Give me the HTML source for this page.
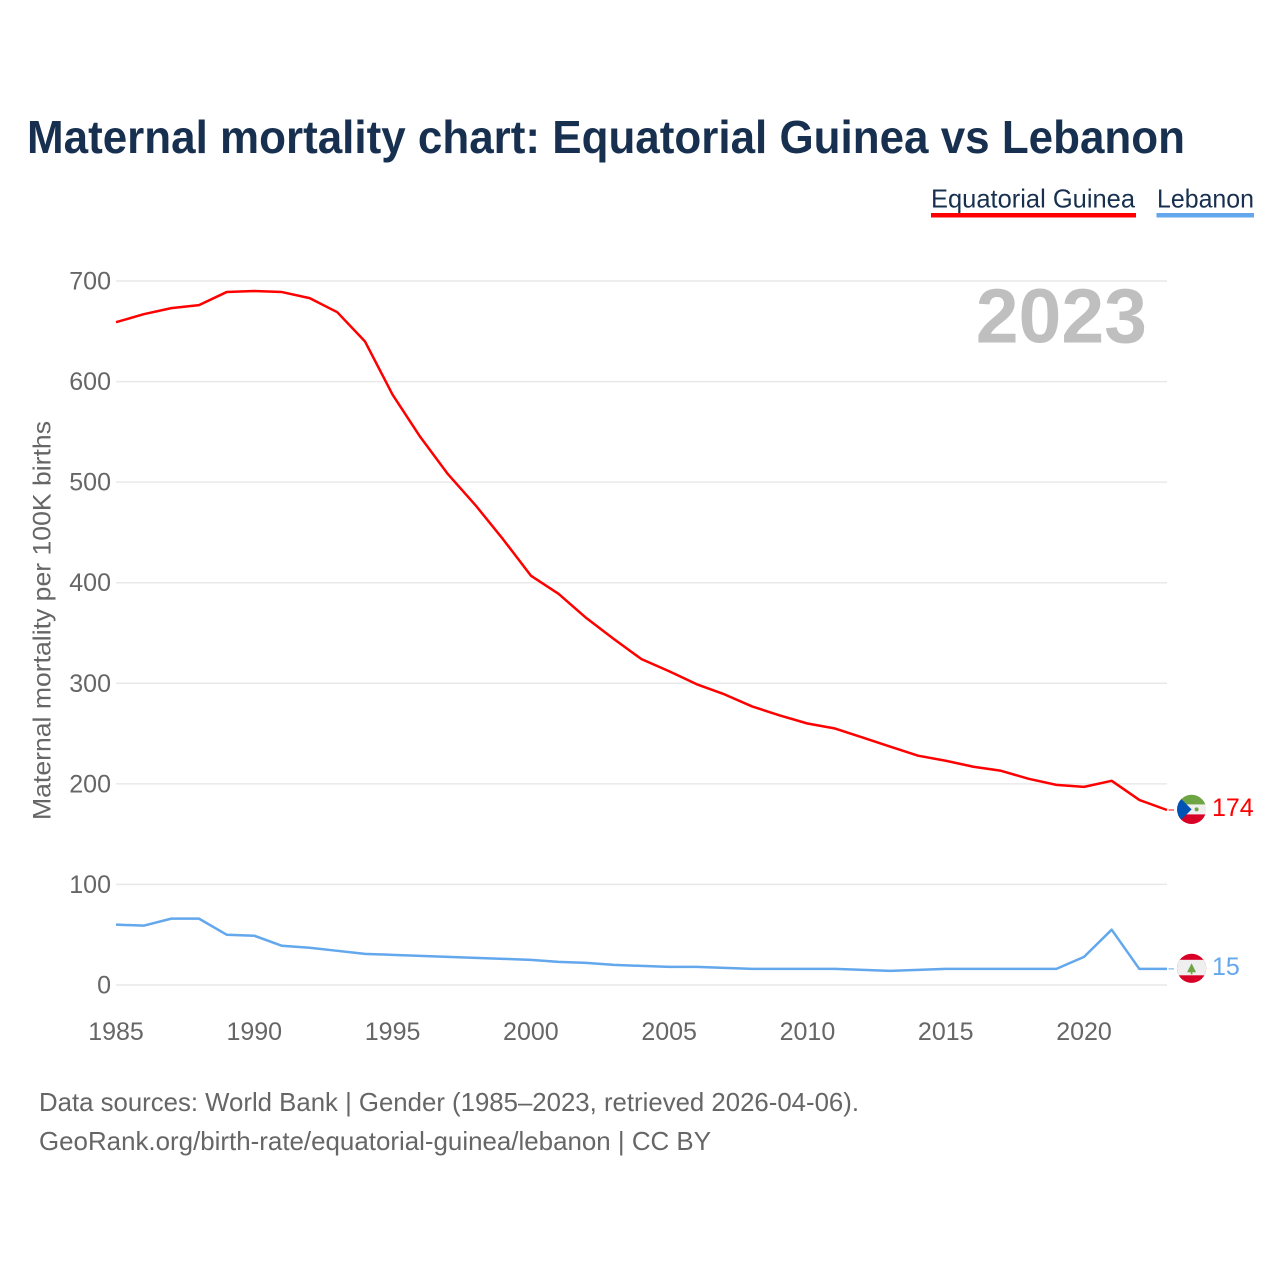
<!DOCTYPE html>
<html lang="en">
<head>
<meta charset="utf-8">
<title>Maternal mortality chart: Equatorial Guinea vs Lebanon</title>
<style>
html,body{margin:0;padding:0;background:#fff;}
svg{display:block;font-family:"Liberation Sans",sans-serif;}
</style>
</head>
<body>
<svg id="chart" xmlns="http://www.w3.org/2000/svg" width="1280" height="1280" viewBox="0 0 1280 1280">
  <defs>
    <clipPath id="clip-eg"><circle id="clip-eg-circle" r="14.6" cx="0" cy="0"/></clipPath>
    <clipPath id="clip-lb"><circle id="clip-lb-circle" r="14.6" cx="0" cy="0"/></clipPath>
  </defs>
  <rect width="1280" height="1280" fill="#fff"/>
  <text x="27" y="153" font-size="46" font-weight="700" fill="#18304f" textLength="1158" lengthAdjust="spacingAndGlyphs">Maternal mortality chart: Equatorial Guinea vs Lebanon</text>

  <g>
    <text x="931" y="207.5" font-size="26" fill="#18304f" textLength="204" lengthAdjust="spacingAndGlyphs">Equatorial Guinea</text>
    <rect x="931" y="213" width="205" height="4.5" fill="#ff0000"/>
  </g>
  <g>
    <text x="1157" y="207.5" font-size="26" fill="#18304f" textLength="97" lengthAdjust="spacingAndGlyphs">Lebanon</text>
    <rect x="1156.5" y="213" width="97.5" height="4.5" fill="#63a7ec"/>
  </g>

  <g id="grid"></g>
  <g id="y-ticks"></g>
  <g id="x-ticks"></g>

  <text x="1147" y="342.5" text-anchor="end" font-size="77" font-weight="700" fill="#bfbfbf">2023</text>
  <text transform="translate(50.5,820) rotate(-90)" font-size="25" fill="#666" textLength="399" lengthAdjust="spacingAndGlyphs">Maternal mortality per 100K births</text>

  <g id="series"></g>
  <g id="end-markers"></g>

  <text x="39" y="1111" font-size="26" fill="#666" textLength="820" lengthAdjust="spacingAndGlyphs">Data sources: World Bank | Gender (1985–2023, retrieved 2026-04-06).</text>
  <text x="39" y="1150" font-size="26" fill="#666" textLength="672" lengthAdjust="spacingAndGlyphs">GeoRank.org/birth-rate/equatorial-guinea/lebanon | CC BY</text>
</svg>
<script>
const years = [1985,1986,1987,1988,1989,1990,1991,1992,1993,1994,1995,1996,1997,1998,1999,2000,2001,2002,2003,2004,2005,2006,2007,2008,2009,2010,2011,2012,2013,2014,2015,2016,2017,2018,2019,2020,2021,2022,2023];
const equatorialGuinea = [659,667,673,676,689,690,689,683,669,640,587,545,508,477,443,407,389,365,344,324,312,299,289,277,268,260,255,246,237,228,223,217,213,205,199,197,203,184,174];
const lebanon = [60,59,66,66,50,49,39,37,34,31,30,29,28,27,26,25,23,22,20,19,18,18,17,16,16,16,16,15,14,15,16,16,16,16,16,28,55,16,16];
const yTickLabels = [0,100,200,300,400,500,600,700];
const xTickLabels = [1985,1990,1995,2000,2005,2010,2015,2020];
const endLabels = ['174','15'];

const NS = 'http://www.w3.org/2000/svg';
const RED = '#ff0000';
const BLUE = '#63a7ec';
function x(year){ return 116 + (year - 1985) * (1167 - 116) / (2023 - 1985); }
function y(v){ return 985 - v * (985 - 281) / 700; }
function make(tag, attrs, parent){
  const el = document.createElementNS(NS, tag);
  for (const k in attrs) el.setAttribute(k, attrs[k]);
  parent.appendChild(el);
  return el;
}

const grid = document.getElementById('grid');
const yTicks = document.getElementById('y-ticks');
yTickLabels.forEach(function(t){
  const line = make('line', {x1:116, x2:1167, y1:y(t), y2:y(t), stroke:'#e9e9e9', 'stroke-width':1.5}, grid);
  
  
  const label = make('text', {x:111, y:y(t)+8.5, 'text-anchor':'end', 'font-size':25, fill:'#666'}, yTicks);
  
  
  label.textContent = t;
});

const xTicks = document.getElementById('x-ticks');
xTickLabels.forEach(function(t){
  const label = make('text', {x:x(t), y:1040, 'text-anchor':'middle', 'font-size':25, fill:'#666'}, xTicks);
  
  
  label.textContent = t;
});

const seriesGroup = document.getElementById('series');
function pathFor(values){
  return values.map(function(v,i){ return (i ? 'L' : 'M') + x(years[i]).toFixed(2) + ' ' + y(v).toFixed(2); }).join(' ');
}
const egLine = make('path', {d:pathFor(equatorialGuinea), fill:'none', stroke:RED, 'stroke-width':2.5, 'stroke-linejoin':'round'}, seriesGroup);


const lbLine = make('path', {d:pathFor(lebanon), fill:'none', stroke:BLUE, 'stroke-width':2.5, 'stroke-linejoin':'round'}, seriesGroup);



const markers = document.getElementById('end-markers');
const endX = x(2023);
const egY = y(equatorialGuinea[equatorialGuinea.length - 1]);
const lbY = y(lebanon[lebanon.length - 1]);

const egConn = make('line', {x1:endX+1.5, x2:endX+7, y1:egY, y2:egY, stroke:RED, 'stroke-width':1}, markers);


const lbConn = make('line', {x1:endX+1.5, x2:endX+7, y1:lbY, y2:lbY, stroke:BLUE, 'stroke-width':1}, markers);



/* Equatorial Guinea flag */
const egFlag = make('g', {transform:'translate(1191.6,' + (egY - 0.6) + ')', 'clip-path':'url(#clip-eg)'}, markers);


make('rect', {x:-15, y:-15, width:30, height:30, fill:'#efefef'}, egFlag);
make('rect', {x:-15, y:-15, width:30, height:10, fill:'#6da544'}, egFlag);
make('rect', {x:-15, y:5, width:30, height:10, fill:'#d80027'}, egFlag);
make('polygon', {points:'-15,-15 0,0 -15,15', fill:'#0052b4'}, egFlag);
make('circle', {cx:5, cy:0, r:2, fill:'#6da544'}, egFlag);

/* Lebanon flag */
const lbFlag = make('g', {transform:'translate(1191.6,' + (lbY - 0.6) + ')', 'clip-path':'url(#clip-lb)'}, markers);


make('rect', {x:-15, y:-15, width:30, height:30, fill:'#d80027'}, lbFlag);
make('rect', {x:-15, y:-8.5, width:30, height:15.5, fill:'#efefef'}, lbFlag);
make('polygon', {points:'0,-5 4.5,4 -4.5,4', fill:'#6da544'}, lbFlag);
make('rect', {x:-0.8, y:3, width:1.6, height:3, fill:'#6da544'}, lbFlag);

const egLabel = make('text', {x:1212, y:egY+6, 'font-size':25, fill:RED}, markers);


egLabel.textContent = endLabels[0];
const lbLabel = make('text', {x:1212, y:lbY+6, 'font-size':25, fill:BLUE}, markers);


lbLabel.textContent = endLabels[1];
</script>
</body>
</html>
